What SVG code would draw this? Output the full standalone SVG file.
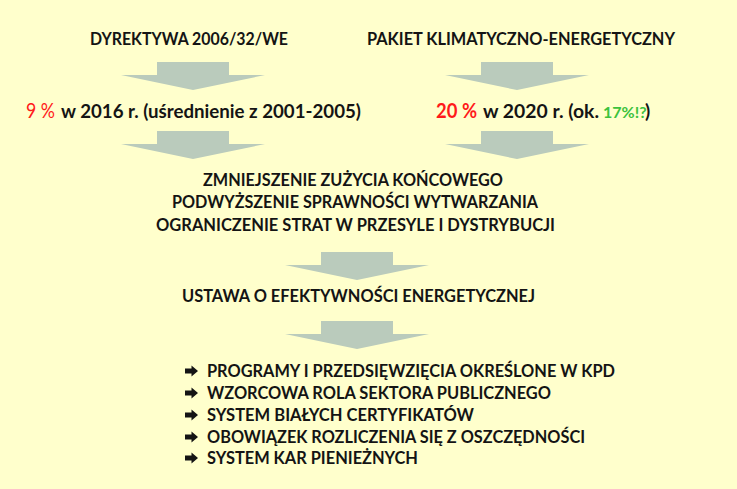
<svg xmlns="http://www.w3.org/2000/svg" width="737" height="489" viewBox="0 0 737 489">
<style>
.t{font-family:Lato,"Open Sans","Liberation Sans",sans-serif;font-weight:bold;fill:#141414;font-size:16.5px}
.t2{font-size:19px}
.red{fill:#ff1a1a;font-size:21.5px}
.reg{font-weight:normal}
.grn{fill:#3cc23c;font-size:16px}
.arr{fill:#bacbbc}
.bul{fill:#141414}
</style>
<defs>
<polygon id="bigArrow" class="arr" points="-36,0 36,0 36,13 72,13 0,28 -72,13 -36,13"/>
<polygon id="bullet" class="bul" points="0,-2.5 6.5,-2.5 6.5,-5.5 13,0 6.5,5.5 6.5,2.5 0,2.5"/>
</defs>
<rect width="737" height="489" fill="#ffffcc"/>
<g id="connectors">
<use href="#bigArrow" x="193" y="62"/>
<use href="#bigArrow" x="193" y="131"/>
<use href="#bigArrow" x="517" y="62"/>
<use href="#bigArrow" x="517" y="131"/>
<use href="#bigArrow" x="357" y="252"/>
<use href="#bigArrow" x="357" y="321"/>
</g>
<g id="node-dyrektywa">
<text class="t" x="90" y="45" textLength="198" lengthAdjust="spacingAndGlyphs">DYREKTYWA 2006/32/WE</text>
</g>
<g id="node-pakiet">
<text class="t" x="367" y="45" textLength="308" lengthAdjust="spacingAndGlyphs">PAKIET KLIMATYCZNO-ENERGETYCZNY</text>
</g>
<g id="node-cel-9">
<text class="t red reg" x="26" y="118" textLength="29" lengthAdjust="spacingAndGlyphs">9 %</text>
<text class="t t2" x="61" y="118" textLength="300" lengthAdjust="spacingAndGlyphs">w 2016 r. (uśrednienie z 2001-2005)</text>
</g>
<g id="node-cel-20">
<text class="t red" x="436" y="118" textLength="41" lengthAdjust="spacingAndGlyphs">20 %</text>
<text class="t t2" x="483" y="118" textLength="116" lengthAdjust="spacingAndGlyphs">w 2020 r. (ok.</text>
<text class="t grn" x="603" y="118">17%!?</text>
<text class="t t2" x="645" y="118">)</text>
</g>
<g id="node-dzialania">
<text class="t" x="203" y="186" textLength="300" lengthAdjust="spacingAndGlyphs">ZMNIEJSZENIE ZUŻYCIA KOŃCOWEGO</text>
<text class="t" x="172" y="208" textLength="366" lengthAdjust="spacingAndGlyphs">PODWYŻSZENIE SPRAWNOŚCI WYTWARZANIA</text>
<text class="t" x="156" y="231" textLength="399" lengthAdjust="spacingAndGlyphs">OGRANICZENIE STRAT W PRZESYLE I DYSTRYBUCJI</text>
</g>
<g id="node-ustawa">
<text class="t" x="182" y="302" textLength="353" lengthAdjust="spacingAndGlyphs">USTAWA O EFEKTYWNOŚCI ENERGETYCZNEJ</text>
</g>
<g id="node-instrumenty">
<use href="#bullet" x="185" y="371"/>
<text class="t" x="207" y="377" textLength="408" lengthAdjust="spacingAndGlyphs">PROGRAMY I PRZEDSIĘWZIĘCIA OKREŚLONE W KPD</text>
<use href="#bullet" x="185" y="393"/>
<text class="t" x="207" y="399" textLength="344" lengthAdjust="spacingAndGlyphs">WZORCOWA ROLA SEKTORA PUBLICZNEGO</text>
<use href="#bullet" x="185" y="415"/>
<text class="t" x="207" y="421" textLength="267" lengthAdjust="spacingAndGlyphs">SYSTEM BIAŁYCH CERTYFIKATÓW</text>
<use href="#bullet" x="185" y="437"/>
<text class="t" x="207" y="443" textLength="378" lengthAdjust="spacingAndGlyphs">OBOWIĄZEK ROZLICZENIA SIĘ Z OSZCZĘDNOŚCI</text>
<use href="#bullet" x="185" y="458"/>
<text class="t" x="207" y="464" textLength="211" lengthAdjust="spacingAndGlyphs">SYSTEM KAR PIENIEŻNYCH</text>
</g>
</svg>
